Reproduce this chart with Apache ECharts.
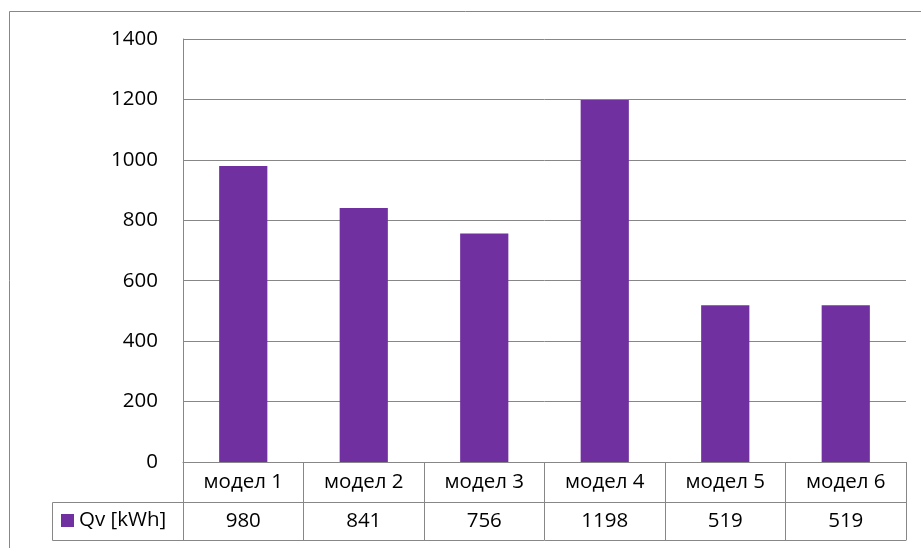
<!DOCTYPE html>
<html><head><meta charset="utf-8">
<script src="https://cdn.jsdelivr.net/npm/echarts@6/dist/echarts.min.js"></script>
<style>html,body{margin:0;padding:0;background:#fff}#c{width:921px;height:548px}</style>
</head><body><div id="c"></div>
<script>
const categories = ['модел 1','модел 2','модел 3','модел 4','модел 5','модел 6'];
const seriesName = 'Qv [kWh]';
const values = [980, 841, 756, 1198, 519, 519];
const yTicks = {min: 0, max: 1400, interval: 200};

const FONT = 'Open Sans';
const FS = 20.5;
const LINE = '#878787';
const chart = echarts.init(document.getElementById('c'), null, {renderer: 'canvas'});
chart.setOption({
  animation: false,
  backgroundColor: '#fff',
  textStyle: {fontFamily: FONT},
  grid: {left: 183, right: 15, top: 39, bottom: 86, containLabel: false},
  legend: {
    data: [seriesName], left: 61, top: 510, itemWidth: 13, itemHeight: 13, itemGap: 5,
    icon: 'rect', textStyle: {fontFamily: FONT, fontSize: FS, color: '#000'}, padding: 0
  },
  xAxis: [
    {type: 'category', data: categories, position: 'bottom',
     axisLine: {show: true, lineStyle: {color: LINE, width: 1}},
     axisTick: {show: true, length: 78, interval: 0, lineStyle: {color: LINE, width: 1}},
     axisLabel: {interval: 0, margin: 20, verticalAlign: 'middle', color: '#000', fontFamily: FONT, fontSize: FS}},
    {type: 'category', data: values.map(String), position: 'bottom', offset: 40, gridIndex: 0,
     axisLine: {show: true, lineStyle: {color: LINE, width: 1}},
     axisTick: {show: false},
     axisLabel: {interval: 0, margin: 19, verticalAlign: 'middle', color: '#000', fontFamily: FONT, fontSize: FS}},
    {type: 'category', data: categories, position: 'bottom', offset: 78, gridIndex: 0,
     axisLine: {show: true, lineStyle: {color: LINE, width: 1}},
     axisTick: {show: false}, axisLabel: {show: false}}
  ],
  yAxis: {
    type: 'value', min: yTicks.min, max: yTicks.max, interval: yTicks.interval,
    axisLine: {show: true, lineStyle: {color: LINE, width: 1}},
    axisTick: {show: false},
    splitLine: {show: true, lineStyle: {color: LINE, width: 1}},
    axisLabel: {margin: 25, color: '#000', fontFamily: FONT, fontSize: FS, formatter: v => String(v)}
  },
  series: [{
    name: seriesName, type: 'bar', data: values, barWidth: '40%', xAxisIndex: 0,
    itemStyle: {color: '#7030A0'}
  }],
  graphic: [
    {type: 'rect', shape: {x: 9.5, y: 11.5, width: 1000, height: 1000}, style: {fill: null, stroke: LINE, lineWidth: 1}, z: 100},
    {type: 'polyline', shape: {points: [[183, 502.5], [52.5, 502.5], [52.5, 540.5], [183, 540.5]]}, style: {fill: null, stroke: LINE, lineWidth: 1}, z: 100}
  ]
});
</script></body></html>
